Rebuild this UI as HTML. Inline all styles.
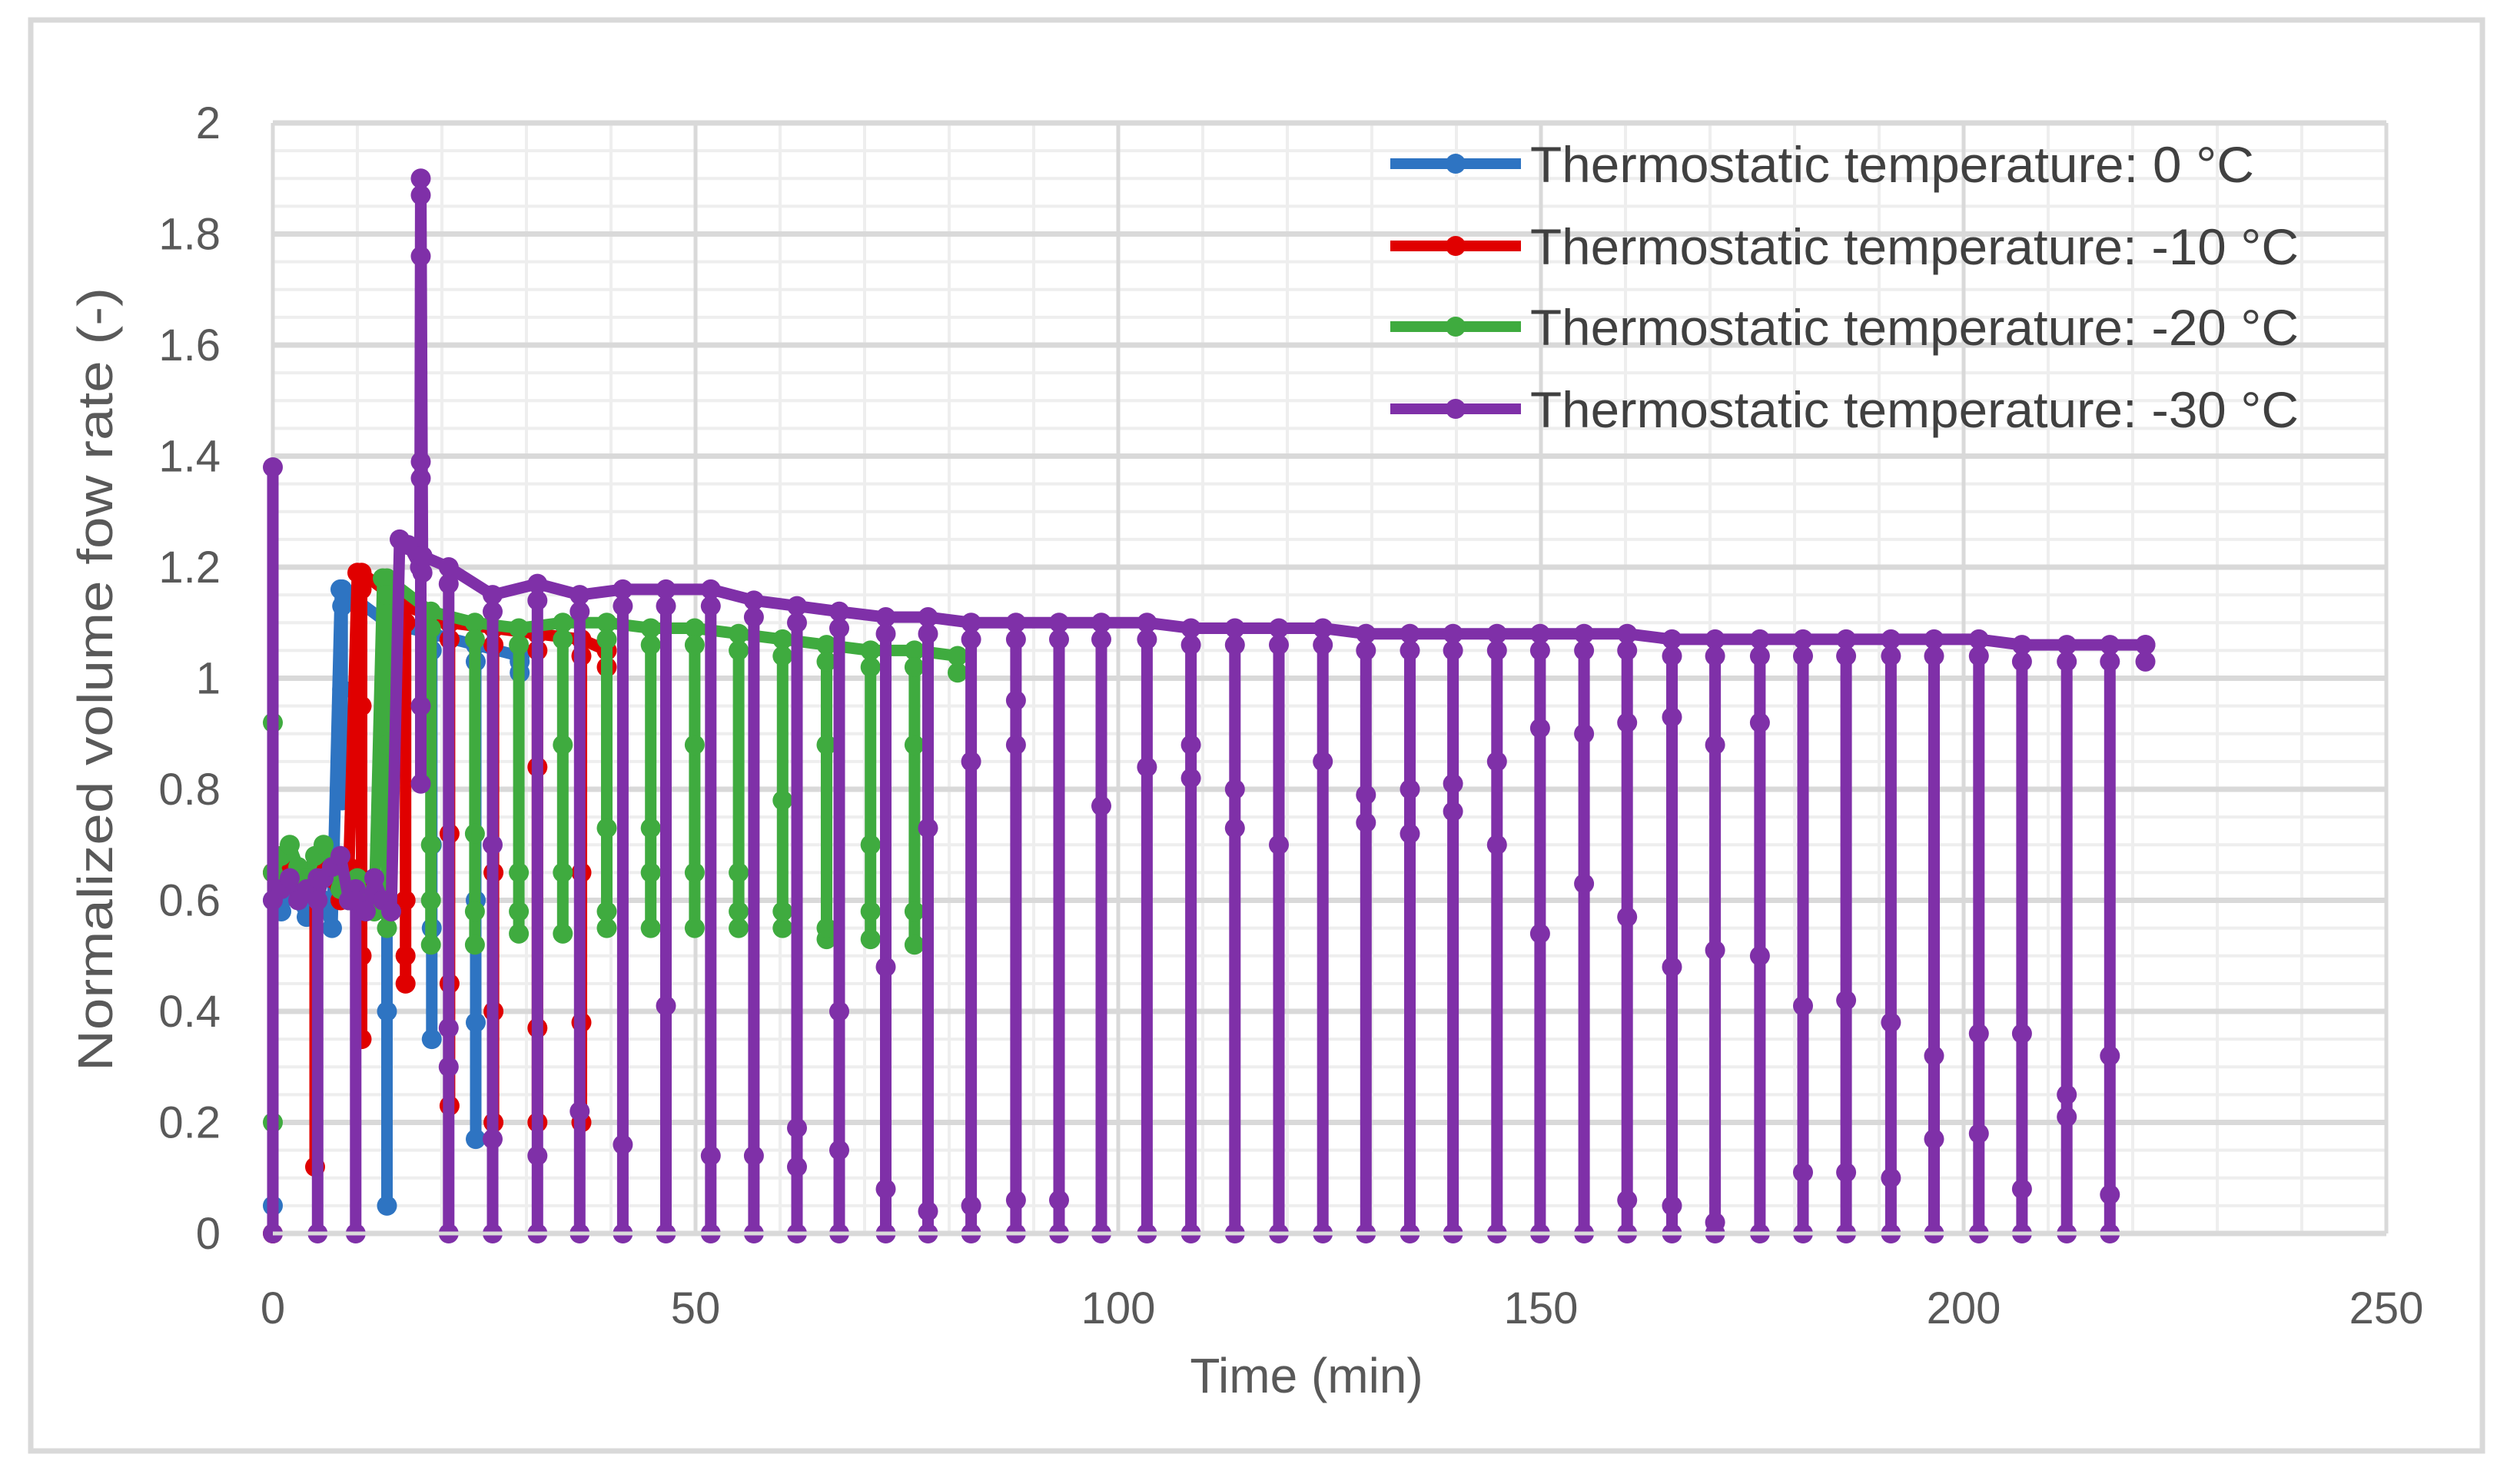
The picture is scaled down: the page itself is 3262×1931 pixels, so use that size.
<!DOCTYPE html>
<html><head><meta charset="utf-8"><style>
html,body{margin:0;padding:0;background:#fff;}
svg{display:block;font-family:"Liberation Sans",sans-serif;}
</style></head><body>
<svg id="chart" width="3262" height="1931" viewBox="0 0 3262 1931" xmlns="http://www.w3.org/2000/svg">
<rect x="40" y="26" width="3190" height="1862" fill="#fff" stroke="#d9d9d9" stroke-width="7"/>
<g id="grid"></g>
<g id="series"></g>
<g id="axes"></g>
<g id="legend"></g>
<text x="1700" y="1812" font-size="64" fill="#595959" text-anchor="middle">Time (min)</text>
<text transform="translate(146,884) rotate(-90)" font-size="64" fill="#595959" text-anchor="middle" textLength="1020" lengthAdjust="spacingAndGlyphs">Normalized volume fow rate (-)</text>
</svg>
<script>
const xTicks=[0,50,100,150,200,250];
const yTicks=[0,0.2,0.4,0.6,0.8,1,1.2,1.4,1.6,1.8,2];
const yTickLabels=["0","0.2","0.4","0.6","0.8","1","1.2","1.4","1.6","1.8","2"];
const seriesNames=["Thermostatic temperature: 0 °C","Thermostatic temperature: -10 °C","Thermostatic temperature: -20 °C","Thermostatic temperature: -30 °C"];
const seriesColors=["#2e74c2","#e00000","#3fab3f","#7f30a8"];
// early (pre-cycling) phase
const blueEarlyT=[0,0,1,2,3,4,5,6,7,8];
const blueEarlyV=[0.05,0.6,0.58,0.62,0.6,0.57,0.62,0.6,0.55,1.16];
const redEarlyT=[0,0,1,2,3,4,5,5,5,6,7,8,9,10];
const redEarlyV=[0,0.65,0.68,0.66,0.64,0.62,0.66,0.12,0.62,0.68,0.64,0.6,0.66,1.19];
const greenEarlyT=[0,0,0,1,2,3,4,5,6,7,8,9,10,11,12,13];
const greenEarlyV=[0.2,0.92,0.65,0.68,0.7,0.66,0.64,0.68,0.7,0.66,0.62,0.6,0.64,0.6,0.58,1.18];
const purpleEarlyT=[0,0,0,1,2,3,4,5.3,5.3,5.3,6,7,8,9,9.8,9.8,9.8,11,12,13,14,15,16,17.4];
const purpleEarlyV=[0,1.38,0.6,0.62,0.64,0.6,0.62,0.64,0,0.6,0.64,0.66,0.68,0.6,0.62,0,0.6,0.58,0.64,0.6,0.58,1.25,1.24,1.2];
// cycles: time, top value, floor value, mid dots
const blueT=[8.2,13.5,18.8,24,29.2];
const blueTop=[1.16,1.1,1.08,1.06,1.04];
const blueFloor=[0.78,0.05,0.35,0.17,1.03];
const blueMid=[[0.85,0.98],[0.4,0.6],[0.55,0.7],[0.38,0.6],[]];
const redT=[10.5,15.7,20.9,26.1,31.3,36.5,39.5];
const redTop=[1.19,1.13,1.1,1.09,1.08,1.07,1.05];
const redFloor=[0.35,0.45,0.23,0.2,0.2,0.2,1.05];
const redMid=[[0.95,0.5],[0.5,0.6],[0.45,0.72],[0.4,0.65],[0.37,0.84],[0.38,0.65],[]];
const greenT=[13.5,18.7,23.9,29.1,34.3,39.5,44.7,49.9,55.1,60.3,65.5,70.7,75.9,81];
const greenTop=[1.18,1.12,1.1,1.09,1.1,1.1,1.09,1.09,1.08,1.07,1.06,1.05,1.05,1.04];
const greenFloor=[0.55,0.52,0.52,0.54,0.54,0.55,0.55,0.55,0.55,0.55,0.53,0.53,0.52,1.04];
const greenMid=[[0.88,0.62],[0.6,0.7],[0.58,0.72],[0.58,0.65],[0.65,0.88],[0.73,0.58],[0.65,0.73],[0.65,0.88],[0.58,0.65],[0.78,0.58],[0.88,0.55],[0.7,0.58],[0.58,0.88],[]];
const purpleT=[17.5,17.7,20.8,26,31.3,36.3,41.4,46.5,51.8,56.9,62,67,72.5,77.5,82.6,87.9,93,98,103.4,108.6,113.8,119,124.2,129.3,134.5,139.6,144.8,149.9,155.1,160.2,165.5,170.6,175.9,181,186.1,191.4,196.5,201.8,206.9,212.2,217.3,221.5];
const purpleTop=[1.9,1.22,1.2,1.15,1.17,1.15,1.16,1.16,1.16,1.14,1.13,1.12,1.11,1.11,1.1,1.1,1.1,1.1,1.1,1.09,1.09,1.09,1.09,1.08,1.08,1.08,1.08,1.08,1.08,1.08,1.07,1.07,1.07,1.07,1.07,1.07,1.07,1.07,1.06,1.06,1.06,1.06];
const purpleFloor=[0.81,1.22,0,0,0,0,0,0,0,0,0,0,0,0,0,0,0,0,0,0,0,0,0,0,0,0,0,0,0,0,0,0,0,0,0,0,0,0,0,0,0,1.06];
const purpleMid=[[1.76,1.39,1.36,0.95],[],[0.37,0.3],[0.7,0.17],[0.14],[0.22],[0.16],[0.41],[0.14],[0.14],[0.19,0.12],[0.4,0.15],[0.48,0.08],[0.73,0.04],[0.85,0.05],[0.96,0.88,0.06],[0.06],[0.77],[0.84],[0.88,0.82],[0.8,0.73],[0.7],[0.85],[0.79,0.74],[0.8,0.72],[0.81,0.76],[0.85,0.7],[0.91,0.54],[0.9,0.63],[0.92,0.57,0.06],[0.93,0.48,0.05],[0.88,0.51,0.02],[0.92,0.5],[0.41,0.11],[0.42,0.11],[0.38,0.1],[0.32,0.17],[0.36,0.18],[0.36,0.08],[0.25,0.21],[0.32,0.07],[]];

const X0=355,KX=11.0,Y0=1605,KY=722.5;
const sx=v=>X0+v*KX, sy=v=>Y0-v*KY;
const NS="http://www.w3.org/2000/svg";
function mk(tag,attrs,parent){const e=document.createElementNS(NS,tag);for(const k in attrs)e.setAttribute(k,attrs[k]);parent.appendChild(e);return e;}
const grid=document.getElementById('grid'),axes=document.getElementById('axes'),ser=document.getElementById('series'),leg=document.getElementById('legend');
for(let v=0;v<=2.0001;v+=0.05){const l=mk('line',{x1:sx(0),x2:sx(250),y1:sy(v),y2:sy(v),stroke:'#eeeeee','stroke-width':4},grid);

}
for(let v=0;v<=250;v+=10){const l=mk('line',{x1:sx(v),x2:sx(v),y1:sy(0),y2:sy(2),stroke:'#eeeeee','stroke-width':4},grid);

}
yTicks.forEach((v,i)=>{const l=mk('line',{x1:sx(0),x2:sx(250),y1:sy(v),y2:sy(v),stroke:'#d9d9d9','stroke-width':7},grid);


const t=mk('text',{x:287,y:sy(v)+20,'font-size':58,fill:'#595959','text-anchor':'end'},axes);t.textContent=yTickLabels[i];

});
xTicks.forEach(v=>{const l=mk('line',{x1:sx(v),x2:sx(v),y1:sy(0),y2:sy(2),stroke:'#d9d9d9','stroke-width':5},grid);


const t=mk('text',{x:sx(v),y:1722,'font-size':58,fill:'#595959','text-anchor':'middle'},axes);t.textContent=String(v);

});
function drawSeries(name,color,eT,eV,T,Top,Fl,Mid){
  const g=mk('g',{},ser);
  
  
  let d='',dots=[];
  eT.forEach((t,i)=>{d+=(i?'L':'M')+sx(t)+' '+sy(eV[i])+' ';dots.push([t,eV[i]]);});
  T.forEach((t,i)=>{d+='L'+sx(t)+' '+sy(Top[i])+' L'+sx(t)+' '+sy(Fl[i])+' L'+sx(t)+' '+sy(Top[i])+' ';
    dots.push([t,Top[i]],[t,Top[i]-0.03],[t,Fl[i]]);Mid[i].forEach(m=>dots.push([t,m]));});
  const p=mk('path',{d:d,fill:'none',stroke:color,'stroke-width':15,'stroke-linejoin':'round'},g);
  
  
  dots.forEach(q=>{const c=mk('circle',{cx:sx(q[0]),cy:sy(q[1]),r:13,fill:color},g);
  
  });
}
drawSeries('series-0c',seriesColors[0],blueEarlyT,blueEarlyV,blueT,blueTop,blueFloor,blueMid);
drawSeries('series-minus10c',seriesColors[1],redEarlyT,redEarlyV,redT,redTop,redFloor,redMid);
drawSeries('series-minus20c',seriesColors[2],greenEarlyT,greenEarlyV,greenT,greenTop,greenFloor,greenMid);
drawSeries('series-minus30c',seriesColors[3],purpleEarlyT,purpleEarlyV,purpleT,purpleTop,purpleFloor,purpleMid);
const ax=mk('line',{x1:sx(0),x2:sx(250),y1:sy(0),y2:sy(0),stroke:'#d9d9d9','stroke-width':5},axes);


const legY=[213,320,425,532],legLen=[942,1000,1000,1000];
seriesNames.forEach((n,i)=>{
  const g=mk('g',{},leg);
  
  
  mk('line',{x1:1809,x2:1979,y1:legY[i],y2:legY[i],stroke:seriesColors[i],'stroke-width':14},g);
  mk('circle',{cx:1894,cy:legY[i],r:13,fill:seriesColors[i]},g);
  const t=mk('text',{x:1991,y:legY[i]+24,'font-size':66,fill:'#404040',textLength:legLen[i],lengthAdjust:'spacingAndGlyphs'},g);
  t.textContent=n;
  
  
});
</script>
</body></html>
